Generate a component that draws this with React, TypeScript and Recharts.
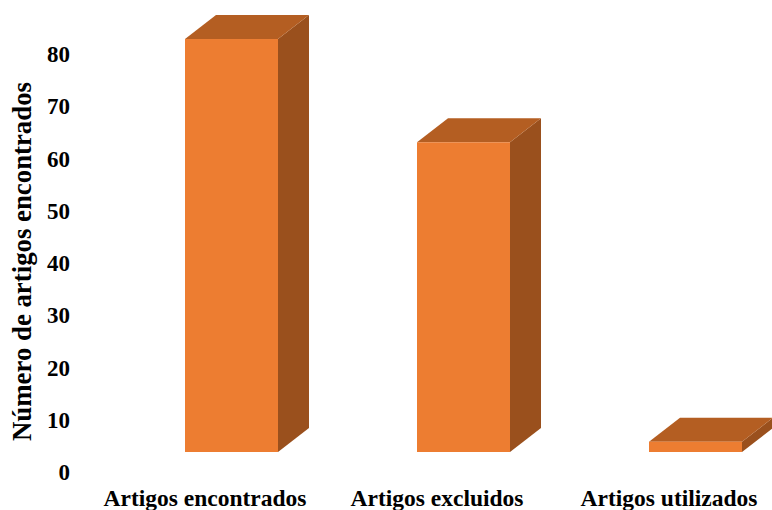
import React from 'react';
import { BarChart, Bar, XAxis, YAxis } from 'recharts';

const categories = ['Artigos encontrados', 'Artigos excluidos', 'Artigos utilizados'];
const artigos = [80, 60, 2];
const yTicks = [0, 10, 20, 30, 40, 50, 60, 70, 80];

const data = categories.map((name, i) => ({ name, artigos: artigos[i] }));

const FONT = '"Liberation Serif", "Times New Roman", serif';
const FRONT = '#ED7D31';
const TOP = '#B45E22';
const SIDE = '#9A501D';

// 3D look: the front face sits a little above the floor and is slightly
// shorter than the axis scale, with a top and a right side in perspective
const DEPTH_X = 31;
const DEPTH_Y = 24;
const FLOOR_LIFT = 20;
const PERSPECTIVE = 0.988;

const Bar3D = (props: any) => {
  const { x, y, width, height } = props;
  const base = y + height;
  const b = base - FLOOR_LIFT;
  const t = b - height * PERSPECTIVE;
  const l = x;
  const r = x + width;
  return (
    <g>
      <polygon
        points={`${r},${t} ${r + DEPTH_X},${t - DEPTH_Y} ${r + DEPTH_X},${b - DEPTH_Y} ${r},${b}`}
        fill={SIDE}
      />
      <polygon
        points={`${l},${t} ${l + DEPTH_X},${t - DEPTH_Y} ${r + DEPTH_X},${t - DEPTH_Y} ${r},${t}`}
        fill={TOP}
      />
      <rect x={l} y={t} width={width} height={b - t} fill={FRONT} />
    </g>
  );
};

const CategoryTick = (props: any) => {
  const { x, y, payload } = props;
  return (
    <text
      x={x - 26}
      y={y}
      dy={34}
      textAnchor="middle"
      fontFamily={FONT}
      fontWeight="bold"
      fontSize={23.5}
      fill="#000"
    >
      {payload.value}
    </text>
  );
};

const AxisTitle = (props: any) => {
  const { viewBox } = props;
  const cx = viewBox.x + 31;
  const cy = 261.5;
  return (
    <text
      x={cx}
      y={cy}
      transform={`rotate(-90, ${cx}, ${cy})`}
      textAnchor="middle"
      fontFamily={FONT}
      fontWeight="bold"
      fontSize={26.8}
      fill="#000"
    >
      Número de artigos encontrados
    </text>
  );
};

export default function App() {
  return (
    <div
      style={{
        position: 'absolute',
        left: 0,
        top: 0,
        width: 772,
        height: 510,
        overflow: 'hidden',
        background: '#fff',
      }}
    >
      <BarChart
        width={820}
        height={510}
        data={data}
        margin={{ top: 54, right: 9, bottom: 0, left: 0 }}
        barSize={93}
      >
        <XAxis
          dataKey="name"
          axisLine={false}
          tickLine={false}
          tickSize={0}
          tickMargin={0}
          height={38}
          interval={0}
          tick={<CategoryTick />}
        />
        <YAxis
          domain={[0, 80]}
          ticks={yTicks}
          axisLine={false}
          tickLine={false}
          tickSize={0}
          tickMargin={45}
          width={115}
          tick={{ fontFamily: FONT, fontWeight: 'bold', fontSize: 23, fill: '#000' }}
          label={<AxisTitle />}
        />
        <Bar dataKey="artigos" shape={<Bar3D />} isAnimationActive={false} />
      </BarChart>
    </div>
  );
}
